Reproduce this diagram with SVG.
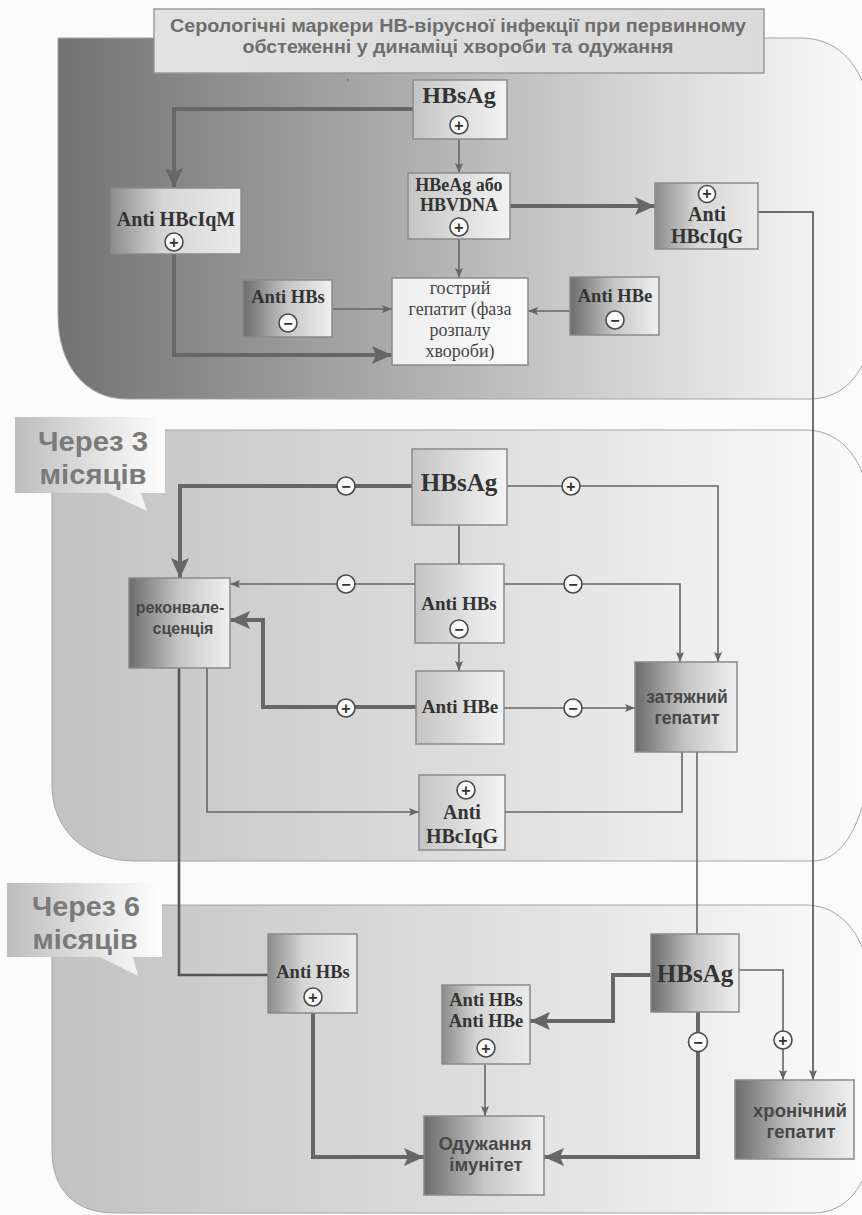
<svg xmlns="http://www.w3.org/2000/svg" width="862" height="1215" viewBox="0 0 862 1215">
<defs>
<linearGradient id="gTop" x1="58" y1="0" x2="862" y2="0" gradientUnits="userSpaceOnUse">
<stop offset="0" stop-color="#727272"/><stop offset="0.45" stop-color="#b0b0b0"/><stop offset="0.8" stop-color="#e0e0e0"/><stop offset="1" stop-color="#fafafa"/>
</linearGradient>
<linearGradient id="gPanel" x1="52" y1="0" x2="862" y2="0" gradientUnits="userSpaceOnUse">
<stop offset="0" stop-color="#c2c2c2"/><stop offset="0.6" stop-color="#e2e2e2"/><stop offset="1" stop-color="#fbfbfb"/>
</linearGradient>
<linearGradient id="gCall" x1="0" y1="0" x2="1" y2="0">
<stop offset="0" stop-color="#bdbdbd"/><stop offset="0.7" stop-color="#ececec"/><stop offset="1" stop-color="#fdfdfd"/>
</linearGradient>
<linearGradient id="gTitle" x1="0" y1="0" x2="1" y2="0">
<stop offset="0" stop-color="#e2e2e2"/><stop offset="1" stop-color="#dadada"/>
</linearGradient>
<linearGradient id="gDark" x1="0" y1="0" x2="1" y2="0">
<stop offset="0" stop-color="#6c6c6c"/><stop offset="0.5" stop-color="#c6c6c6"/><stop offset="1" stop-color="#f0f0f0"/>
</linearGradient>
<linearGradient id="gMid" x1="0" y1="0" x2="1" y2="0">
<stop offset="0" stop-color="#8c8c8c"/><stop offset="0.4" stop-color="#d6d6d6"/><stop offset="1" stop-color="#eaeaea"/>
</linearGradient>
<linearGradient id="gLight" x1="0" y1="0" x2="1" y2="0">
<stop offset="0" stop-color="#c4c4c4"/><stop offset="1" stop-color="#f4f4f4"/>
</linearGradient>
<linearGradient id="gWhite" x1="0" y1="0" x2="1" y2="0">
<stop offset="0" stop-color="#eeeeee"/><stop offset="1" stop-color="#fcfcfc"/>
</linearGradient>
<marker id="aS" markerUnits="userSpaceOnUse" markerWidth="10" markerHeight="8" refX="10" refY="4" orient="auto">
<path d="M0,0 L10,4 L0,8 L2,4 Z" fill="#666"/>
</marker>
<marker id="aB" markerUnits="userSpaceOnUse" markerWidth="20" markerHeight="18" refX="20" refY="9" orient="auto">
<path d="M0,0 L20,9 L0,18 L4,9 Z" fill="#666"/>
</marker>
<style>
.panel{stroke:#a4a4a4;stroke-width:1}
.box{stroke:#8a8a8a;stroke-width:1.5}
.ser{font-family:"Liberation Serif","Times New Roman",serif;font-weight:bold;fill:#333;text-anchor:middle}
.serr{font-family:"Liberation Serif","Times New Roman",serif;fill:#444;text-anchor:middle;font-size:18px}
.san{font-family:"Liberation Sans",Arial,sans-serif;font-weight:bold;fill:#474747;text-anchor:middle}
.ttl{font-family:"Liberation Sans",Arial,sans-serif;font-weight:bold;fill:#6e6e6e;text-anchor:middle;font-size:19px}
.cal{font-family:"Liberation Sans",Arial,sans-serif;font-weight:bold;fill:#7a7a7a;text-anchor:middle;font-size:28px}
.thin{fill:none;stroke:#666;stroke-width:1.6}
.thick{fill:none;stroke:#666;stroke-width:4}
.med{fill:none;stroke:#555;stroke-width:2.6}
.dk{fill:none;stroke:#444;stroke-width:1.5}
.sg circle{fill:#fafafa;stroke:#4a4a4a;stroke-width:1.6}
.sg text{font-family:"Liberation Sans",Arial,sans-serif;font-weight:bold;font-size:16px;fill:#333;text-anchor:middle}
</style>
</defs>
<rect x="0" y="0" width="862" height="1215" fill="#fbfbfb"/>

<g id="panels">
<path class="panel" fill="url(#gTop)" d="M58,38 H800 C835,38 858,60 868,98 V350 C860,380 838,399 810,399 H127 C85,399 58,365 58,315 Z"/>
<path class="panel" fill="url(#gPanel)" d="M52,430 H805 C835,430 858,450 868,490 V780 C860,830 840,861 813,861 H135 C85,861 52,830 52,785 Z"/>
<path class="panel" fill="url(#gPanel)" d="M52,905 H805 C835,905 858,925 868,965 V1165 C860,1195 840,1213 813,1213 H115 C75,1213 52,1190 52,1150 Z"/>
</g>

<g id="title">
<rect x="154" y="9" width="610" height="64" fill="url(#gTitle)" stroke="#9a9a9a" stroke-width="1.5"/>
<text class="ttl" x="458" y="32" textLength="576" lengthAdjust="spacingAndGlyphs">Серологічні маркери НВ-вірусної інфекції при первинному</text>
<text class="ttl" x="458" y="53" textLength="431" lengthAdjust="spacingAndGlyphs">обстеженні у динаміці хвороби та одужання</text>
</g>
<text x="346" y="80" font-family="Liberation Sans, sans-serif" font-size="11" fill="#555">,</text>

<g id="callout3">
<path fill="url(#gCall)" d="M15,417 H165 V493 H141 L147,511 L108,493 H15 Z"/>
<text class="cal" x="93" y="451" textLength="110" lengthAdjust="spacingAndGlyphs">Через 3</text>
<text class="cal" x="93" y="484" textLength="107" lengthAdjust="spacingAndGlyphs">місяців</text>
</g>
<g id="callout6">
<path fill="url(#gCall)" d="M7,883 H162 V957 H133 L138,976 L100,957 H7 Z"/>
<text class="cal" x="86" y="916" textLength="108" lengthAdjust="spacingAndGlyphs">Через 6</text>
<text class="cal" x="85" y="949" textLength="105" lengthAdjust="spacingAndGlyphs">місяців</text>
</g>

<g id="connectors">
<path class="thick" d="M413,109 H174 V188" marker-end="url(#aB)"/>
<path class="thin" d="M459,139 V173" marker-end="url(#aS)"/>
<path class="thin" d="M459,239 V278" marker-end="url(#aS)"/>
<path class="thick" d="M510,206 H655" marker-end="url(#aB)"/>
<path class="thin" d="M332,309 H392" marker-end="url(#aS)"/>
<path class="thin" d="M570,311 H528" marker-end="url(#aS)"/>
<path class="thick" d="M174,254 V355 H392" marker-end="url(#aB)"/>
<path class="dk" d="M758,212 H813 V1080" marker-end="url(#aS)"/>

<path class="thick" d="M412,486 H180 V578" marker-end="url(#aB)"/>
<path class="thin" d="M507,486 H718 V662" marker-end="url(#aS)"/>
<path class="thin" d="M459,525 V564"/>
<path class="thin" d="M415,584 H230" marker-end="url(#aS)"/>
<path class="thin" d="M504,584 H680 V662" marker-end="url(#aS)"/>
<path class="thin" d="M459,643 V671" marker-end="url(#aS)"/>
<path class="thick" d="M416,707 H263 V620 H230" marker-end="url(#aB)"/>
<path class="thin" d="M504,708 H635" marker-end="url(#aS)"/>
<path class="thin" d="M207,668 V812 H419" marker-end="url(#aS)"/>
<path class="thin" d="M682,752 V812 H505"/>
<path class="med" d="M179,668 V975 H268"/>
<path class="thin" d="M697,752 V934"/>

<path class="thick" d="M313,1012 V1157 H424" marker-end="url(#aB)"/>
<path class="thick" d="M651,975 H613 V1021 H530" marker-end="url(#aB)"/>
<path class="thick" d="M698,1012 V1157 H544" marker-end="url(#aB)"/>
<path class="thin" d="M739,970 H783 V1080" marker-end="url(#aS)"/>
<path class="thin" d="M485,1064 V1116" marker-end="url(#aS)"/>

<g class="sg"><circle cx="346" cy="486" r="9"/><text x="346" y="491.5">−</text></g>
<g class="sg"><circle cx="571" cy="486" r="9"/><text x="571" y="491.5">+</text></g>
<g class="sg"><circle cx="346" cy="584" r="9"/><text x="346" y="589.5">−</text></g>
<g class="sg"><circle cx="573" cy="584" r="9"/><text x="573" y="589.5">−</text></g>
<g class="sg"><circle cx="346" cy="708" r="9"/><text x="346" y="713.5">+</text></g>
<g class="sg"><circle cx="573" cy="708" r="9"/><text x="573" y="713.5">−</text></g>
<g class="sg"><circle cx="698" cy="1042" r="9.5"/><text x="698" y="1047.5">−</text></g>
<g class="sg"><circle cx="783" cy="1040" r="9"/><text x="783" y="1045.5">+</text></g>
</g>

<g id="n_hbsag1">
<rect class="box" x="413" y="80" width="94" height="59" fill="url(#gLight)"/>
<text class="ser" x="459" y="103" font-size="24">HBsAg</text>
<g class="sg"><circle cx="459" cy="125" r="9"/><text x="459" y="130.5">+</text></g>
</g>
<g id="n_hbeag">
<rect class="box" x="408" y="173" width="102" height="66" fill="url(#gLight)"/>
<text class="ser" x="459" y="191" font-size="18">HBeAg або</text>
<text class="ser" x="459" y="211" font-size="18">HBVDNA</text>
<g class="sg"><circle cx="459" cy="227" r="9"/><text x="459" y="232.5">+</text></g>
</g>
<g id="n_antihbcigm">
<rect class="box" x="111" y="188" width="130" height="66" fill="url(#gMid)"/>
<text class="ser" x="176" y="226" font-size="20">Anti HBcIqM</text>
<g class="sg"><circle cx="174" cy="242" r="9"/><text x="174" y="247.5">+</text></g>
</g>
<g id="n_antihbs1">
<rect class="box" x="243" y="280" width="89" height="57" fill="url(#gDark)"/>
<text class="ser" x="288" y="303" font-size="18.5">Anti HBs</text>
<g class="sg"><circle cx="288" cy="323" r="9"/><text x="288" y="328.5">−</text></g>
</g>
<g id="n_gostryi">
<rect class="box" x="392" y="278" width="136" height="87" fill="url(#gWhite)"/>
<text class="serr" x="460" y="294">гострий</text>
<text class="serr" x="460" y="315">гепатит (фаза</text>
<text class="serr" x="460" y="336">розпалу</text>
<text class="serr" x="460" y="357">хвороби)</text>
</g>
<g id="n_antihbe1">
<rect class="box" x="570" y="277" width="89" height="58" fill="url(#gDark)"/>
<text class="ser" x="615" y="302" font-size="18.5">Anti HBe</text>
<g class="sg"><circle cx="615" cy="320" r="9"/><text x="615" y="325.5">−</text></g>
</g>
<g id="n_antihbcigg1">
<rect class="box" x="655" y="183" width="103" height="66" fill="url(#gMid)"/>
<g class="sg"><circle cx="707" cy="194" r="8.5"/><text x="707" y="199" font-size="15">+</text></g>
<text class="ser" x="707" y="221" font-size="20">Anti</text>
<text class="ser" x="707" y="243" font-size="20">HBcIqG</text>
</g>

<g id="n_hbsag2">
<rect class="box" x="412" y="449" width="95" height="76" fill="url(#gLight)"/>
<text class="ser" x="459" y="491" font-size="25">HBsAg</text>
</g>
<g id="n_antihbs2">
<rect class="box" x="415" y="564" width="89" height="79" fill="url(#gLight)"/>
<text class="ser" x="459" y="610" font-size="19">Anti HBs</text>
<g class="sg"><circle cx="459" cy="629" r="9"/><text x="459" y="634.5">−</text></g>
</g>
<g id="n_antihbe2">
<rect class="box" x="416" y="671" width="88" height="73" fill="url(#gLight)"/>
<text class="ser" x="460" y="713" font-size="19">Anti HBe</text>
</g>
<g id="n_rekonv">
<rect class="box" x="129" y="578" width="101" height="90" fill="url(#gDark)"/>
<text class="san" x="180" y="613" font-size="16">реконвале-</text>
<text class="san" x="183" y="634" font-size="16">сценція</text>
</g>
<g id="n_zatyazh">
<rect class="box" x="635" y="662" width="102" height="90" fill="url(#gDark)"/>
<text class="san" x="687" y="703" font-size="17.5">затяжний</text>
<text class="san" x="687" y="724" font-size="17.5">гепатит</text>
</g>
<g id="n_antihbcigg2">
<rect class="box" x="419" y="775" width="86" height="75" fill="url(#gLight)"/>
<g class="sg"><circle cx="466" cy="790" r="9"/><text x="466" y="795.5">+</text></g>
<text class="ser" x="462" y="819" font-size="20">Anti</text>
<text class="ser" x="462" y="843" font-size="20">HBcIqG</text>
</g>

<g id="n_antihbs3">
<rect class="box" x="268" y="934" width="89" height="79" fill="url(#gMid)"/>
<text class="ser" x="313" y="978" font-size="18.5">Anti HBs</text>
<g class="sg"><circle cx="313" cy="997" r="9"/><text x="313" y="1002.5">+</text></g>
</g>
<g id="n_hbsag3">
<rect class="box" x="651" y="934" width="88" height="78" fill="url(#gDark)"/>
<text class="ser" x="695" y="982" font-size="25">HBsAg</text>
</g>
<g id="n_antihbs_hbe">
<rect class="box" x="442" y="985" width="88" height="79" fill="url(#gMid)"/>
<text class="ser" x="486" y="1006" font-size="18.5">Anti HBs</text>
<text class="ser" x="486" y="1027" font-size="18.5">Anti HBe</text>
<g class="sg"><circle cx="486" cy="1048" r="9"/><text x="486" y="1053.5">+</text></g>
</g>
<g id="n_oduzh">
<rect class="box" x="424" y="1116" width="120" height="79" fill="url(#gDark)"/>
<text class="san" x="485" y="1150" font-size="18.5">Одужання</text>
<text class="san" x="486" y="1171" font-size="18.5">імунітет</text>
</g>
<g id="n_chron">
<rect class="box" x="735" y="1080" width="119" height="79" fill="url(#gDark)"/>
<text class="san" x="800" y="1117" font-size="18.5">хронічний</text>
<text class="san" x="801" y="1138" font-size="18.5">гепатит</text>
</g>
</svg>
